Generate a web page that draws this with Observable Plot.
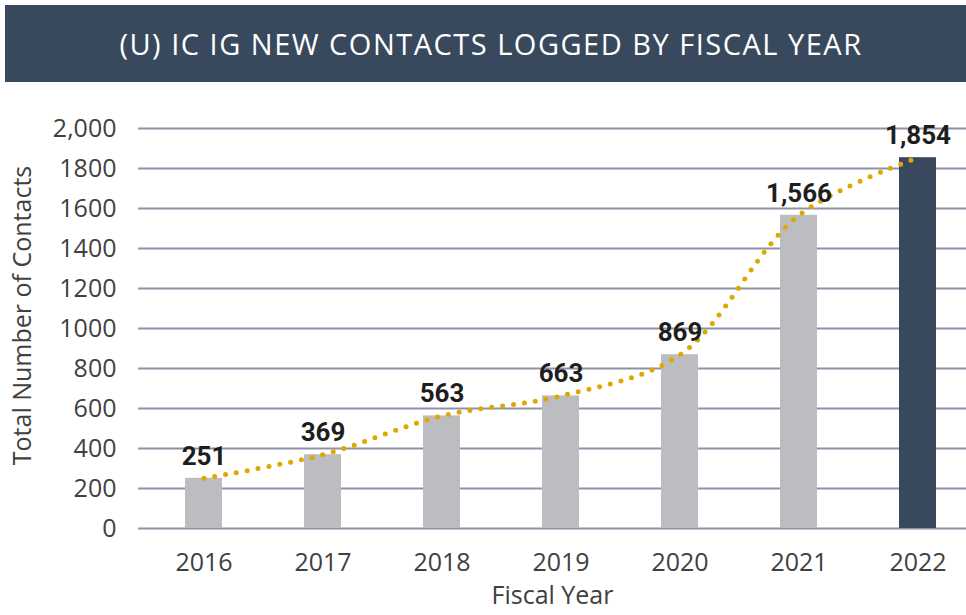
<!DOCTYPE html>
<html>
<head>
<meta charset="utf-8">
<script src="https://cdn.jsdelivr.net/npm/d3@7"></script>
<script src="https://cdn.jsdelivr.net/npm/@observablehq/plot@0.6"></script>
<style>
  html, body { margin: 0; padding: 0; background: #ffffff; }
  #banner {
    position: absolute; left: 5px; top: 5px; width: 961px; height: 77px;
    background: #38495e; color: #ffffff;
    font-family: "Open Sans", sans-serif; font-size: 29px;
    display: flex; align-items: center; justify-content: center;
    padding-left: 11px; box-sizing: border-box; letter-spacing: 1.5px;
  }
  #chart { position: absolute; left: 0; top: 82px; }
</style>
</head>
<body>
<div id="banner">(U) IC IG NEW CONTACTS LOGGED BY FISCAL YEAR</div>
<div id="chart"></div>
<script>
const years = ["2016", "2017", "2018", "2019", "2020", "2021", "2022"];
const contacts = [251, 369, 563, 663, 869, 1566, 1854];
const valueLabels = ["251", "369", "563", "663", "869", "1,566", "1,854"];
const yTicks = [0, 200, 400, 600, 800, 1000, 1200, 1400, 1600, 1800, 2000];
const yTickLabels = ["0", "200", "400", "600", "800", "1000", "1200", "1400", "1600", "1800", "2,000"];
const highlightYear = "2022";

const data = years.map((year, i) => ({ year, value: contacts[i], label: valueLabels[i] }));

const chart = Plot.plot({
  width: 966,
  height: 533,
  marginLeft: 138,
  marginRight: 0,
  marginTop: 46,
  marginBottom: 87,
  style: { fontFamily: "Open Sans", fontSize: "25px", color: "#404040", background: "transparent", overflow: "visible" },
  x: { domain: years, range: [142.25, 978.75], paddingInner: 0.69, paddingOuter: 0.345, align: 0.5, label: null },
  y: { domain: [0, 2000], label: null },
  marks: [
    Plot.gridY(yTicks, { stroke: "#8d93a6", strokeOpacity: 1, strokeWidth: 2 }),
    Plot.axisY(yTicks, {
      tickSize: 0, tickPadding: 22, label: null,
      tickFormat: d => yTickLabels[yTicks.indexOf(d)],
      fontSize: 25, fill: "#404040"
    }),
    Plot.axisX({ tickSize: 0, tickPadding: 25, label: null, fontSize: 25, fill: "#404040" }),
    Plot.barY(data, { x: "year", y: "value", fill: d => d.year === highlightYear ? "#38495e" : "#bcbdc1" }),
    Plot.line(data, {
      x: "year", y: "value", curve: "catmull-rom",
      stroke: "#dfa800", strokeWidth: 5, strokeDasharray: "0 11", strokeLinecap: "round"
    }),
    Plot.text(data, {
      x: "year", y: "value", text: "label", dy: -22,
      fontFamily: "Roboto", fontWeight: "bold", fontSize: 26, fill: "#1e1e1e"
    }),
    Plot.text(["Total Number of Contacts"], {
      frameAnchor: "left", textAnchor: "middle", lineAnchor: "middle",
      dx: -116, dy: -13, rotate: -90,
      fontSize: 25, fill: "#404040", letterSpacing: 0.5
    }),
    Plot.text(["Fiscal Year"], {
      frameAnchor: "bottom", textAnchor: "middle", lineAnchor: "middle",
      dy: 67, fontSize: 25, fill: "#404040"
    })
  ]
});
document.getElementById("chart").appendChild(chart);
</script>
</body>
</html>
